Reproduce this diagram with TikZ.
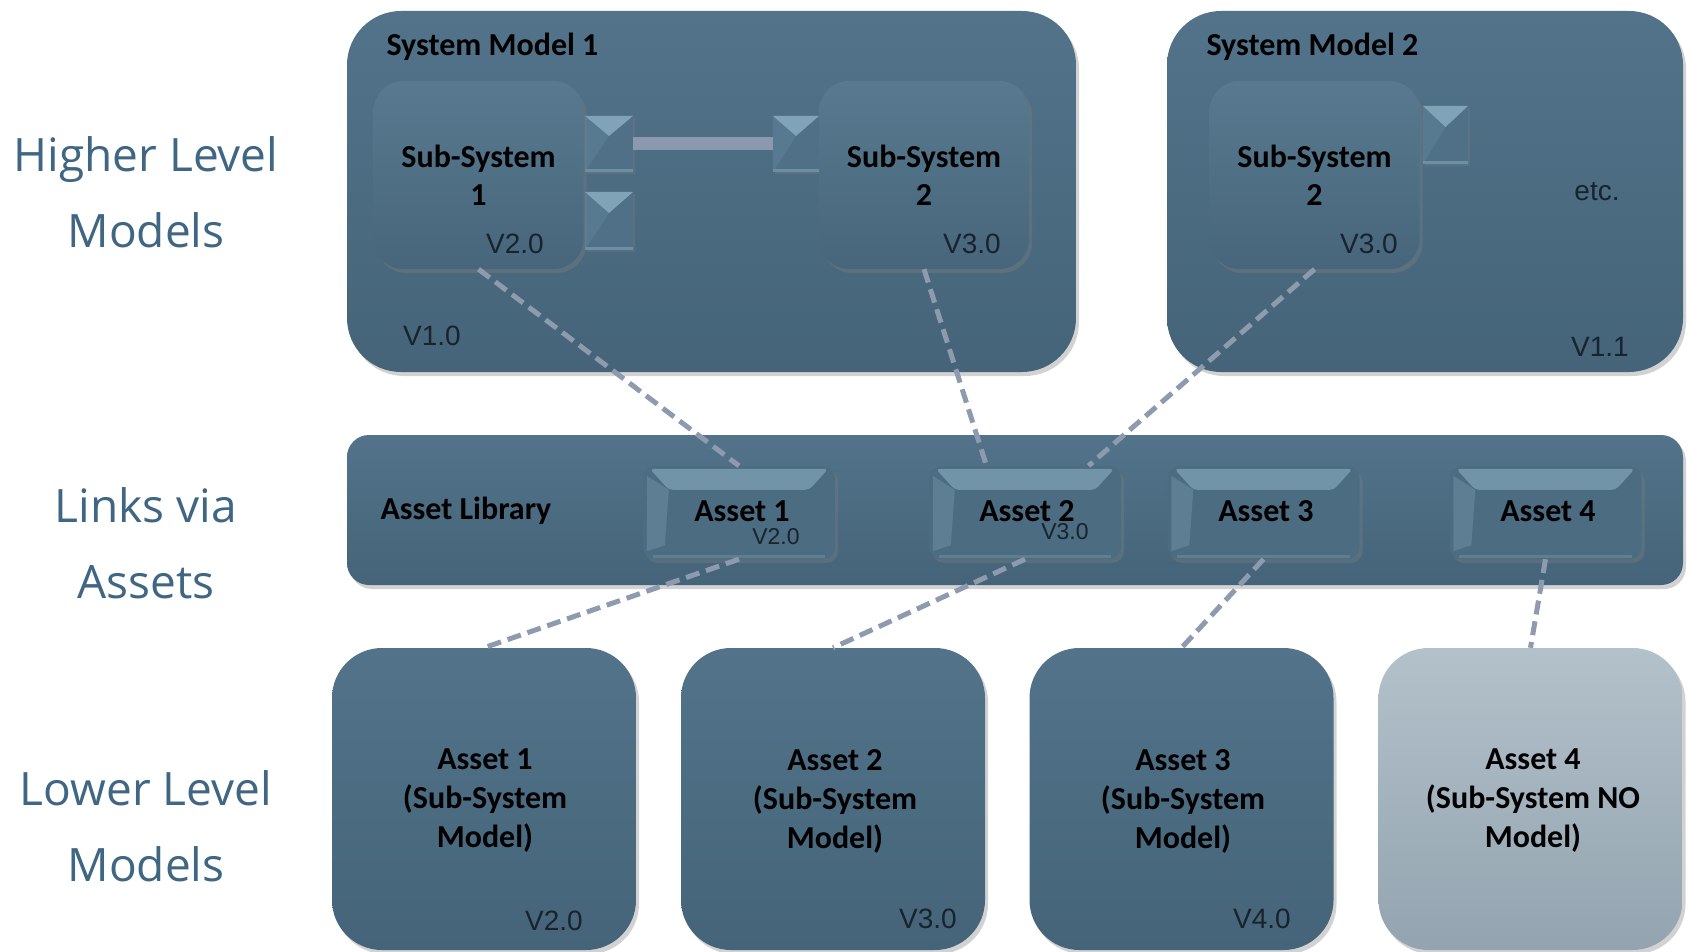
\documentclass[tikz,border=0pt]{standalone}
\usepackage{fontspec}
\setmainfont{Liberation Sans}
\newfontfamily\boldfont{Carlito}
\newfontfamily\sidefont{Open Sans}
\usetikzlibrary{shadows,calc}
\definecolor{boxtop}{HTML}{52738A}
\definecolor{boxbot}{HTML}{456479}
\definecolor{subtop}{HTML}{58798F}
\definecolor{subbot}{HTML}{47667B}
\definecolor{keybev}{HTML}{7194A9}
\definecolor{keyface}{HTML}{4C6C81}
\definecolor{greytop}{HTML}{B3C1CA}
\definecolor{greybot}{HTML}{93A4B0}
\definecolor{dashcol}{HTML}{8E9AAE}
\definecolor{barcol}{HTML}{8B98AD}
\definecolor{side}{HTML}{3F6682}
\definecolor{ver}{HTML}{18232D}
\definecolor{portlight}{HTML}{80A3B8}
\definecolor{portmid}{HTML}{4F7086}
\definecolor{portside}{HTML}{587A90}
\begin{document}
\begin{tikzpicture}[x=1pt,y=-1pt,
  shad/.style={drop shadow={opacity=0.35,shadow xshift=3pt,shadow yshift=-4pt}},
  bigbox/.style={rectangle,rounded corners=54pt,top color=boxtop,bottom color=boxbot,shad,inner sep=0pt},
  subbox/.style={rectangle,rounded corners=30pt,top color=subtop,bottom color=subbot,shad,inner sep=0pt,
     minimum width=210pt,minimum height=188pt,align=center,font=\boldfont\bfseries\fontsize{32}{38}\selectfont},
  libbox/.style={rectangle,rounded corners=22pt,top color=boxtop,bottom color=boxbot,shad,inner sep=0pt},
  keybox/.style={rectangle,rounded corners=12pt,fill=keyface,shad,inner sep=0pt,
     minimum width=192pt,minimum height=93pt},
  lowbox/.style={rectangle,rounded corners=50pt,top color=boxtop,bottom color=boxbot,shad,inner sep=0pt,
     minimum width=304pt,minimum height=302pt},
  greybox/.style={lowbox,top color=greytop,bottom color=greybot},
  port/.style={rectangle,fill=portmid,inner sep=0pt,drop shadow={opacity=0.3,shadow xshift=2pt,shadow yshift=-2pt}},
  boldtxt/.style={font=\boldfont\bfseries\fontsize{32}{39}\selectfont,text=black,align=center},
  vertxt/.style={font=\fontsize{28}{30}\selectfont,text=ver},
  smallver/.style={font=\fontsize{23}{25}\selectfont,text=ver},
  sidetxt/.style={font=\sidefont\fontsize{46}{76}\selectfont,text=side,align=center},
  dashc/.style={draw=dashcol,line width=5pt,dash pattern=on 14pt off 7pt},
  barline/.style={draw=barcol,line width=13pt}
]
\useasboundingbox (0,0) rectangle (1690,952);
\clip (0,0) rectangle (1690,952);
\fill[white] (0,0) rectangle (1690,952);

% side labels
\node[sidetxt] (hl) at (146,192) {Higher Level\\Models};
\node[sidetxt] (lv) at (146,543) {Links via\\Assets};
\node[sidetxt] (ll) at (146,826) {Lower Level\\Models};

% system models
\node[bigbox,minimum width=729pt,minimum height=361pt] (sm1) at (711.5,191.5) {};
\node[bigbox,minimum width=516pt,minimum height=361pt] (sm2) at (1425,191.5) {};
\node[boldtxt,anchor=west] (sm1t) at (383,47) {System Model 1};
\node[boldtxt,anchor=west] (sm2t) at (1203,47) {System Model 2};
\node[vertxt] (v10) at (432,336) {V1.0};
\node[vertxt] (v11) at (1600,347) {V1.1};
\node[vertxt] (etc) at (1597,192) {etc.};

% ports
\node[port,minimum width=48pt,minimum height=56pt] (p1) at (609,144) {};
\node[port,minimum width=48pt,minimum height=58pt] (p2) at (609,221) {};
\node[port,minimum width=46pt,minimum height=56pt] (p3) at (796,144) {};
\node[port,minimum width=45pt,minimum height=58pt] (p4) at (1445.5,135) {};
\foreach \p in {p1,p2,p3,p4}{
  \fill[portside] (\p.north west) -- ($(\p.center)+(0,-8)$) -- (\p.south west) -- cycle;
  \fill[portlight] (\p.north west) -- (\p.north east) -- ($(\p.center)+(0,-8)$) -- cycle;
  \fill[portlight!60!portmid] ($(\p.south west)+(0,-3)$) rectangle (\p.south east);
}
\draw[barline] (p1.east) -- (p3.west);

% sub-systems
\node[subbox] (ss1) at (478.5,175) {Sub-System\\1};
\node[subbox] (ss2a) at (924,175) {Sub-System\\2};
\node[subbox] (ss2b) at (1314.5,175) {Sub-System\\2};
\node[vertxt] (vs1) at (515,244) {V2.0};
\node[vertxt] (vs2a) at (972,244) {V3.0};
\node[vertxt] (vs2b) at (1369,244) {V3.0};

% asset library
\node[libbox,minimum width=1336pt,minimum height=150pt] (lib) at (1015,510) {};
\node[boldtxt,anchor=west] (libt) at (377,511) {Asset Library};
\foreach \n/\x in {a1/739,a2/1025,a3/1263.5,a4/1545.5}{
  \node[keybox] (\n) at (\x,512.5) {};
  \fill[keybev,rounded corners=4pt] ($(\n.north west)+(7,3)$) -- ($(\n.north east)+(-7,3)$) -- ($(\n.north east)+(-26,24)$) -- ($(\n.north west)+(26,24)$) -- cycle;
  \fill[keybev!45!keyface] ($(\n.north west)+(4,10)$) -- ($(\n.north west)+(26,24)$) -- ($(\n.south west)+(22,-14)$) -- ($(\n.south west)+(4,-8)$) -- cycle;
  \fill[keybev!45!keyface] ($(\n.south west)+(10,-4)$) rectangle ($(\n.south east)+(-10,-1)$);
}
\node[boldtxt] (a1t) at (742,511) {Asset 1};
\node[boldtxt] (a2t) at (1027,511) {Asset 2};
\node[boldtxt] (a3t) at (1266,511) {Asset 3};
\node[boldtxt] (a4t) at (1548,511) {Asset 4};
\node[smallver] (va1) at (776,537) {V2.0};
\node[smallver] (va2) at (1065,532) {V3.0};

% lower level
\node[lowbox] (b1) at (484,799) {};
\node[lowbox] (b2) at (833,799) {};
\node[lowbox] (b3) at (1181.5,799) {};
\node[greybox] (b4) at (1530.5,799) {};
\node[boldtxt] (b1t) at (485,801) {Asset 1\\(Sub-System\\Model)};
\node[boldtxt] (b2t) at (835,801) {Asset 2\\(Sub-System\\Model)};
\node[boldtxt] (b3t) at (1183,801) {Asset 3\\(Sub-System\\Model)};
\node[boldtxt] (b4t) at (1533,801) {Asset 4\\(Sub-System NO\\Model)};
\node[vertxt] (vb1) at (554,921) {V2.0};
\node[vertxt] (vb2) at (928,919) {V3.0};
\node[vertxt] (vb3) at (1262,919) {V4.0};

% dashed links
\draw[dashc] (ss1.south) -- (a1.north);
\draw[dashc] (ss2a.south) -- ($(a2.north west)!0.3!(a2.north east)$);
\draw[dashc] (ss2b.south) -- ($(a2.north west)!0.83!(a2.north east)$);
\draw[dashc] (a1.south) -- (b1.north);
\draw[dashc] (a2.south) -- (b2.north);
\draw[dashc] (a3.south) -- (b3.north);
\draw[dashc] (a4.south) -- (b4.north);
\end{tikzpicture}
\end{document}
